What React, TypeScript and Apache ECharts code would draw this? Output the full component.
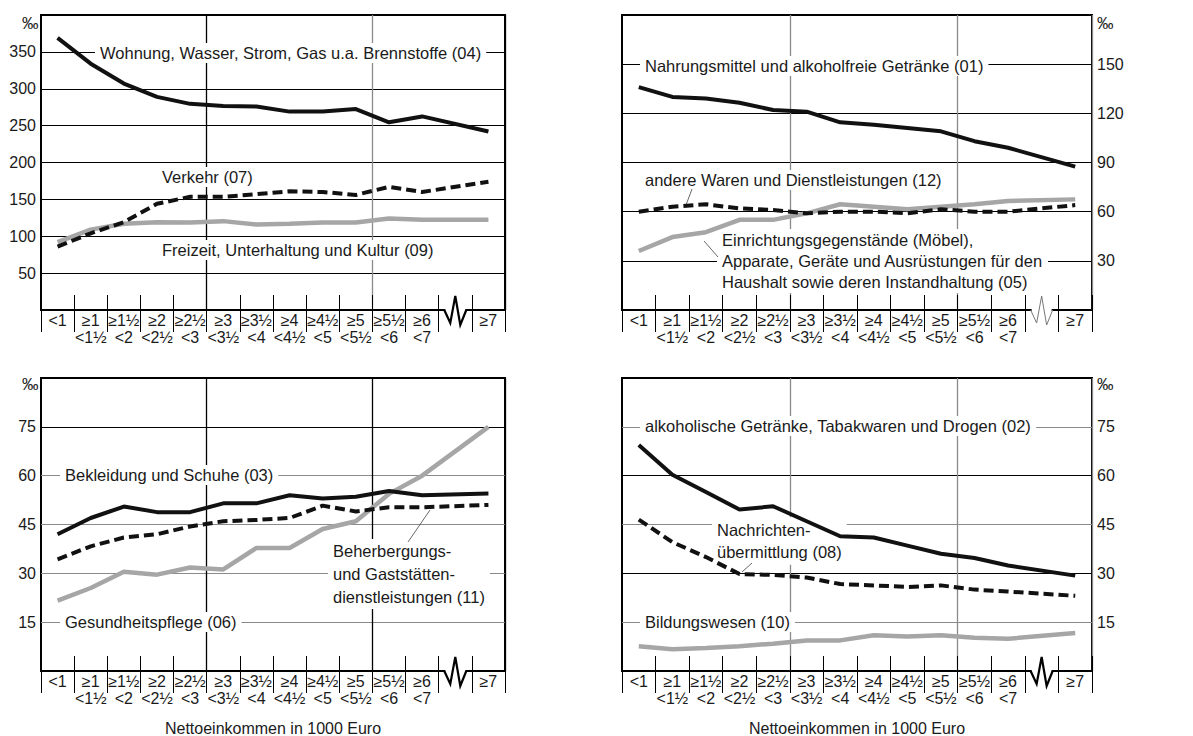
import React, { useEffect, useRef } from 'react';
import * as echarts from 'echarts';

const FONT = '"Liberation Sans", Arial, Helvetica, sans-serif';

// x categories (index 12 is the axis break)
const categories = ['<1', '≥1\n<1½', '≥1½\n<2', '≥2\n<2½', '≥2½\n<3', '≥3\n<3½', '≥3½\n<4', '≥4\n<4½', '≥4½\n<5', '≥5\n<5½', '≥5½\n<6', '≥6\n<7', '', '≥7'];
const BREAK_INDEX = 12;

// top-left (‰)
const wohnung04 = [369, 334, 307, 289, 279.5, 276.5, 276, 269, 269, 272.5, 254.5, 262.5, 242];
const verkehr07 = [86, 104, 119, 144, 153.5, 153.5, 157, 161, 160, 156, 167, 160, 174];
const freizeit09 = [92, 109, 117, 119, 118.5, 120.5, 116, 117, 118.5, 118.5, 124, 122.5, 122.5];
// top-right
const nahrung01 = [136, 130, 129, 126.5, 122, 121, 114.5, 113, 111, 109, 103, 99, 87.5];
const andere12 = [60, 63, 64.5, 62, 61, 59, 60, 60, 59, 61.5, 60, 60, 64];
const einrichtung05 = [36, 44.5, 47.5, 55, 55, 59, 64.5, 63, 61.5, 63, 64.5, 66.5, 67.5];
// bottom-left
const bekleidung03 = [42, 47, 50.5, 48.8, 48.8, 51.5, 51.5, 54, 53, 53.5, 55.3, 54, 54.5];
const beherbergung11 = [34.3, 38.3, 41, 42, 44.4, 46, 46.4, 47, 50.8, 49, 50.3, 50.3, 51];
const gesundheit06 = [21.6, 25.5, 30.5, 29.6, 31.8, 31.2, 37.8, 37.8, 43.6, 46, 54.4, 60, 75];
// bottom-right
const alkohol02 = [69.4, 60.3, 55, 49.6, 50.6, 46, 41.4, 41, 38.5, 36, 34.7, 32.4, 29.3];
const nachrichten08 = [46.5, 39.6, 35, 29.8, 29.5, 28.7, 26.7, 26.3, 25.8, 26.3, 25, 24.4, 23.1];
const bildung10 = [7.6, 6.7, 7.1, 7.6, 8.4, 9.4, 9.4, 11, 10.6, 11, 10.2, 9.9, 11.7];

// y scales: [max, interval]
const yScaleTL = [400, 50];
const yScaleTR = [180, 30];
const yScaleBL = [90, 15];
const yScaleBR = [90, 15];

const withBreak = (a: number[]) => [...a.slice(0, BREAK_INDEX), null, ...a.slice(BREAK_INDEX)];

const BLACK = '#111';
const GRAY = '#a6a6a6';
const GRID_GRAY = '#8a8a8a';
const TEXT = '#1a1a1a';

function xMain(grid: number, vColors: string[]) {
  return {
    type: 'category', gridIndex: grid, data: categories, boundaryGap: true, position: 'bottom',
    axisLine: { show: false },
    axisTick: { show: true, inside: false, length: 22, interval: 0, lineStyle: { color: '#000', width: 1 } },
    axisLabel: { interval: 0, fontSize: 16, lineHeight: 17, color: TEXT, fontFamily: FONT, margin: 2 },
    splitLine: { show: true, interval: (i: number) => i === 5 || i === 10, lineStyle: { color: vColors, width: 1.3 } },
  };
}
function xInner(grid: number) {
  return {
    type: 'category', gridIndex: grid, data: categories, boundaryGap: true, position: 'bottom',
    axisLine: { show: false },
    axisTick: { show: true, inside: true, length: 15, interval: 0, lineStyle: { color: '#000', width: 1 } },
    axisLabel: { show: false }, splitLine: { show: false },
  };
}
function yAx(grid: number, scale: number[], position: string, colors: string[]) {
  return {
    type: 'value', gridIndex: grid, min: 0, max: scale[0], interval: scale[1], position,
    axisLine: { show: false }, axisTick: { show: false },
    axisLabel: { showMinLabel: false, showMaxLabel: false, fontSize: 16, color: TEXT, fontFamily: FONT, margin: 5 },
    splitLine: { show: true, lineStyle: { color: colors, width: 1.2 } },
  };
}
function line(grid: number, data: number[], kind: 'solid' | 'dash' | 'gray') {
  return {
    type: 'line', xAxisIndex: grid * 2, yAxisIndex: grid, data: withBreak(data),
    connectNulls: true, symbol: 'none', silent: true,
    lineStyle: {
      color: kind === 'gray' ? GRAY : BLACK,
      width: kind === 'gray' ? 4.5 : 4,
      type: kind === 'dash' ? [10, 5] : 'solid',
    },
  };
}

function txt(text: string, x: number, y: number, lineHeight = 18, bg = true) {
  return {
    type: 'text', x, y, z: 1, silent: true,
    style: {
      text, fontSize: 16.5, fontFamily: FONT, fill: TEXT, lineHeight,
      backgroundColor: bg ? '#fff' : 'transparent', padding: [1, 5],
      align: 'left', verticalAlign: 'middle',
    },
  };
}
function lead(x1: number, y1: number, x2: number, y2: number) {
  return { type: 'line', z: 1, silent: true, shape: { x1, y1, x2, y2 }, style: { stroke: '#444', lineWidth: 0.8 } };
}

export default function App() {
  const ref = useRef<HTMLDivElement>(null);
  useEffect(() => {
    if (!ref.current) return;
    const chart = echarts.init(ref.current, null, { renderer: 'svg' });
    const staticGraphics: any[] = [
      txt('Wohnung, Wasser, Strom, Gas u.a. Brennstoffe (04)', 95, 53),
      txt('Verkehr (07)', 157, 177),
      txt('Freizeit, Unterhaltung und Kultur (09)', 157, 250),
      txt('Nahrungsmittel und alkoholfreie Getränke (01)', 640, 66),
      txt('andere Waren und Dienstleistungen (12)', 640, 180),
      txt('Einrichtungsgegenstände (Möbel),\nApparate, Geräte und Ausrüstungen für den\nHaushalt sowie deren Instandhaltung (05)', 717, 261, 20.7),
      txt('Bekleidung und Schuhe (03)', 60, 475),
      txt('Gesundheitspflege (06)', 60, 622),
      txt('Beherbergungs-\nund Gaststätten-\ndienstleistungen (11)', 328, 574, 22.7),
      txt('alkoholische Getränke, Tabakwaren und Drogen (02)', 640, 426),
      txt('Nachrichten-\nübermittlung (08)', 712, 541, 22.7),
      txt('Bildungswesen (10)', 640, 622),
      lead(692, 189, 686, 205),
      lead(718, 257, 704, 241),
      lead(408, 542, 430, 510),
      lead(752, 563, 742, 572),
      txt('‰', 17, 23, 18, false),
      txt('‰', 17, 384, 18, false),
      txt('‰', 1092, 23, 18, false),
      txt('‰', 1092, 384, 18, false),
      { type: 'text', x: 273, y: 728, z: 1, style: { text: 'Nettoeinkommen in 1000 Euro', fontSize: 16, fontFamily: FONT, fill: TEXT, align: 'center', verticalAlign: 'middle' } },
      { type: 'text', x: 857, y: 728, z: 1, style: { text: 'Nettoeinkommen in 1000 Euro', fontSize: 16, fontFamily: FONT, fill: TEXT, align: 'center', verticalAlign: 'middle' } },
    ];
    const gridBase = { show: true, borderColor: '#000', borderWidth: 2, backgroundColor: 'transparent', containLabel: false };
    const option: any = {
      animation: false,
      backgroundColor: '#fff',
      textStyle: { fontFamily: FONT },
      grid: [
        { ...gridBase, left: 41, top: 15, width: 464, height: 295 },
        { ...gridBase, left: 622, top: 15, width: 470, height: 295 },
        { ...gridBase, left: 41, top: 378, width: 464, height: 293 },
        { ...gridBase, left: 622, top: 378, width: 470, height: 293 },
      ],
      xAxis: [
        xMain(0, ['#000', GRID_GRAY]), xInner(0),
        xMain(1, [GRID_GRAY, GRID_GRAY]), xInner(1),
        xMain(2, ['#000', '#000']), xInner(2),
        xMain(3, [GRID_GRAY, GRID_GRAY]), xInner(3),
      ],
      yAxis: [
        yAx(0, yScaleTL, 'left', ['#000']),
        yAx(1, yScaleTR, 'right', ['#000']),
        yAx(2, yScaleBL, 'left', ['#000', GRID_GRAY, GRID_GRAY, GRID_GRAY, GRID_GRAY, '#000', '#000']),
        yAx(3, yScaleBR, 'right', ['#000', GRID_GRAY, '#000', GRID_GRAY, '#000', GRID_GRAY, '#000']),
      ],
      series: [
        line(0, freizeit09, 'gray'), line(0, verkehr07, 'dash'), line(0, wohnung04, 'solid'),
        line(1, einrichtung05, 'gray'), line(1, andere12, 'dash'), line(1, nahrung01, 'solid'),
        line(2, gesundheit06, 'gray'), line(2, beherbergung11, 'dash'), line(2, bekleidung03, 'solid'),
        line(3, bildung10, 'gray'), line(3, nachrichten08, 'dash'), line(3, alkohol02, 'solid'),
      ],
      graphic: staticGraphics,
    };
    chart.setOption(option);

    // axis-break zigzags
    const breaks: any[] = [];
    for (let k = 0; k < 4; k++) {
      const cx = chart.convertToPixel({ xAxisIndex: k * 2 } as any, BREAK_INDEX as any) as number;
      const ay = chart.convertToPixel({ yAxisIndex: k } as any, 0 as any) as number;
      const thin = k === 1;
      breaks.push({ type: 'rect', z: 3, silent: true, shape: { x: cx - 10, y: ay - 3, width: 20, height: 6 }, style: { fill: '#fff' } });
      breaks.push({
        type: 'polyline', z: 4, silent: true,
        shape: { points: [[cx - 11, ay], [cx - 5, ay + 13], [cx, ay - 14], [cx + 5, ay + 15], [cx + 11, ay]] },
        style: { stroke: thin ? '#777' : '#000', lineWidth: thin ? 1 : 2.2, fill: 'none' },
      });
    }
    chart.setOption({ graphic: [...staticGraphics, ...breaks] });
    return () => chart.dispose();
  }, []);
  return <div ref={ref} style={{ position: 'absolute', left: 0, top: 0, width: 1193, height: 736 }} />;
}
